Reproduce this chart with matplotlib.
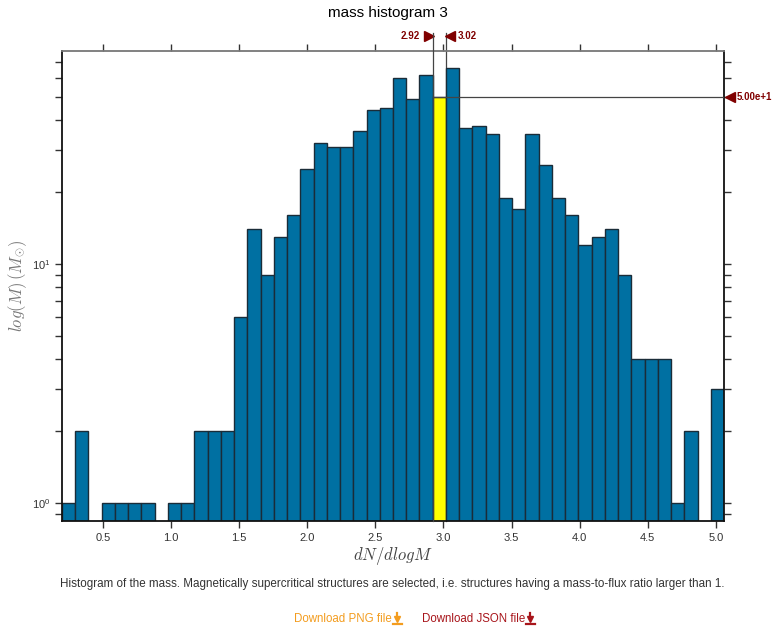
import numpy as np
import matplotlib
matplotlib.use('Agg')
import matplotlib.pyplot as plt
from matplotlib.transforms import offset_copy
from matplotlib.lines import Line2D

plt.rcParams['font.family'] = ['Liberation Sans', 'DejaVu Sans']
plt.rcParams['mathtext.fontset'] = 'cm'

# datos del histograma (50 bins entre lo y hi)
lo, hi, nbins = 0.2, 5.06, 50
counts = [1, 2, 0, 1, 1, 1, 1, 0, 1, 1,
          2, 2, 2, 6, 14, 9, 13, 16, 25, 32,
          31, 31, 36, 44, 45, 60, 49, 62, 50, 66,
          37, 38, 35, 19, 17, 35, 26, 19, 16, 12,
          13, 14, 9, 4, 4, 4, 1, 2, 0, 3]
sel_bin = 28
sel_labels = ['2.92', '3.02']
sel_value_label = '5.00e+1'
xticks = [0.5, 1.0, 1.5, 2.0, 2.5, 3.0, 3.5, 4.0, 4.5, 5.0]

title = 'mass histogram 3'
caption = ('Histogram of the mass. Magnetically supercritical structures are selected, '
           'i.e. structures having a mass-to-flux ratio larger than 1.')

edges = np.linspace(lo, hi, nbins + 1)
counts = np.array(counts, dtype=float)

W, H = 775, 630
fig = plt.figure(figsize=(W/100, H/100), dpi=100)
ax = fig.add_axes([62/W, 1 - 521/H, (724 - 62)/W, (521 - 51)/H])

n, b, patches = ax.hist(edges[:-1], bins=edges, weights=counts, log=True,
                        color='#0070a2', edgecolor='#1a2c38', linewidth=1.0)
patches[sel_bin].set_facecolor('#ffff00')

ax.set_xlim(lo, hi)
ax.set_ylim(0.843, 78)
ax.set_xticks(xticks)
ax.set_xticklabels([f'{t:.1f}' for t in xticks])

ax.tick_params(which='both', direction='out', top=True, right=True,
               labeltop=False, labelright=False, labelsize=8, colors='#333333',
               length=5, width=1)
ax.tick_params(which='minor', length=5)
for s in ['left', 'bottom', 'right']:
    ax.spines[s].set_color('#111111')
    ax.spines[s].set_linewidth(1.3)
ax.spines['top'].set_color('#777777')
ax.spines['top'].set_linewidth(1.3)

ax.set_xlabel(r'$dN/dlogM$', fontsize=12, color='#444444')
ax.xaxis.set_label_coords(0.5, -(545 - 521)/470)
ax.set_ylabel(r'$log(M)\,(M_{\odot})$', fontsize=12, color='#777777')
ax.yaxis.set_label_coords(-(62 - 29)/662, 0.5)
fig.text(0.5, 1 - 13/H, title, ha='center', va='center', fontsize=11)

# marcadores del bin seleccionado
red = '#800000'
x0, x1 = edges[sel_bin], edges[sel_bin + 1]
yv = counts[sel_bin]
xt = ax.get_xaxis_transform()
ytop = 1.038
ax.plot([x0, x0], [0, ytop], transform=xt, color='#444444', lw=0.9, clip_on=False, zorder=3)
ax.plot([x1, x1], [0, ytop], transform=xt, color='#444444', lw=0.9, clip_on=False, zorder=0.5)

ax.plot([x0], [1.032], marker='>', ms=6.5, color=red, clip_on=False,
        transform=offset_copy(xt, fig=fig, x=-4, y=0, units='dots'))
ax.plot([x1], [1.032], marker='<', ms=6.5, color=red, clip_on=False,
        transform=offset_copy(xt, fig=fig, x=4, y=0, units='dots'))
ax.text(x0, 1.032, sel_labels[0], color=red, fontsize=7, fontweight='bold',
        ha='right', va='center', clip_on=False,
        transform=offset_copy(xt, fig=fig, x=-13, y=0, units='dots'))
ax.text(x1, 1.032, sel_labels[1], color=red, fontsize=7, fontweight='bold',
        ha='left', va='center', clip_on=False,
        transform=offset_copy(xt, fig=fig, x=12, y=0, units='dots'))

yt = ax.get_yaxis_transform()
ax.plot([(x0 - lo)/(hi - lo), 1], [yv, yv], transform=yt, color='#444444', lw=0.9, zorder=3)
ax.plot([1], [yv], marker='<', ms=6.5, color=red, clip_on=False,
        transform=offset_copy(yt, fig=fig, x=6, y=0, units='dots'))
ax.text(1, yv, sel_value_label, color=red, fontsize=7, fontweight='bold',
        ha='left', va='center', clip_on=False,
        transform=offset_copy(yt, fig=fig, x=13, y=0, units='dots'))

# pie de figura
fig.text(392/W, 1 - 584/H, caption, ha='center', va='center', fontsize=8.4, color='#333333')


def download_link(x_end, label, color):
    y = 1 - 619/H
    fig.text(x_end/W, y, label, ha='right', va='center', fontsize=8.3, color=color)
    # icono de descarga: flecha hacia abajo sobre una barra
    xi = x_end + 5
    fig.add_artist(Line2D([xi/W, xi/W], [1 - 613/H, 1 - 619/H], color=color, lw=1.6,
                          transform=fig.transFigure))
    fig.add_artist(Line2D([xi/W], [1 - 619/H], marker='v', ms=4.5, color=color, lw=0,
                          transform=fig.transFigure))
    fig.add_artist(Line2D([(xi - 4.5)/W, (xi + 4.5)/W], [1 - 623.5/H, 1 - 623.5/H],
                          color=color, lw=1.6, transform=fig.transFigure))


download_link(392, 'Download PNG file', '#f39c1e')
download_link(525, 'Download JSON file', '#a8151b')

fig.savefig('out.png', dpi=100)
